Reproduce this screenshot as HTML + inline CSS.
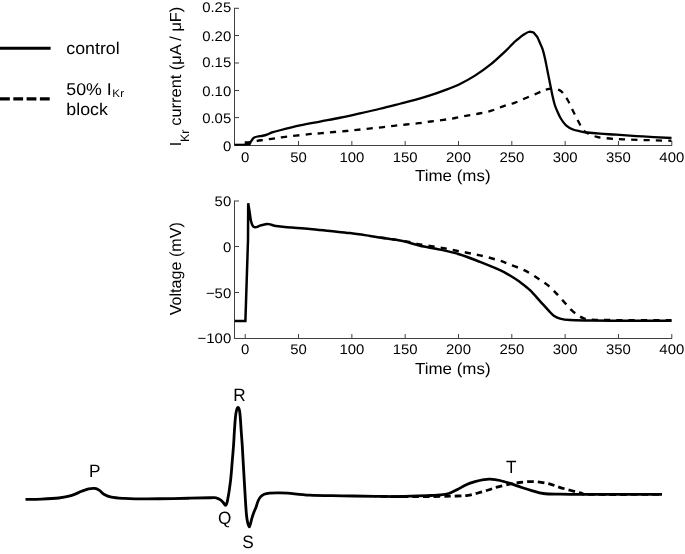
<!DOCTYPE html>
<html><head><meta charset="utf-8"><style>
html,body{margin:0;padding:0;background:#fff;width:685px;height:554px;overflow:hidden}
svg{display:block;will-change:transform}
text{font-family:"Liberation Sans",sans-serif;fill:#000;text-rendering:geometricPrecision}
</style></head><body>
<svg width="685" height="554" viewBox="0 0 685 554">
<path d="M234.50 7.80 V145.50 H672.00" fill="none" stroke="#404040" stroke-width="1"/>
<path d="M245.20 145.50 V141.00" stroke="#404040" stroke-width="1"/>
<path d="M298.52 145.50 V141.00" stroke="#404040" stroke-width="1"/>
<path d="M351.85 145.50 V141.00" stroke="#404040" stroke-width="1"/>
<path d="M405.17 145.50 V141.00" stroke="#404040" stroke-width="1"/>
<path d="M458.50 145.50 V141.00" stroke="#404040" stroke-width="1"/>
<path d="M511.82 145.50 V141.00" stroke="#404040" stroke-width="1"/>
<path d="M565.15 145.50 V141.00" stroke="#404040" stroke-width="1"/>
<path d="M618.47 145.50 V141.00" stroke="#404040" stroke-width="1"/>
<path d="M671.80 145.50 V141.00" stroke="#404040" stroke-width="1"/>
<path d="M234.50 145.50 H239.00" stroke="#404040" stroke-width="1"/>
<path d="M234.50 117.60 H239.00" stroke="#404040" stroke-width="1"/>
<path d="M234.50 90.50 H239.00" stroke="#404040" stroke-width="1"/>
<path d="M234.50 63.00 H239.00" stroke="#404040" stroke-width="1"/>
<path d="M234.50 35.50 H239.00" stroke="#404040" stroke-width="1"/>
<path d="M234.50 8.30 H239.00" stroke="#404040" stroke-width="1"/>
<text transform="translate(231.20 150.90) scale(1.065 1)" font-size="14" text-anchor="end" >0</text>
<text transform="translate(231.20 123.10) scale(1.065 1)" font-size="14" text-anchor="end" >0.05</text>
<text transform="translate(231.20 95.70) scale(1.065 1)" font-size="14" text-anchor="end" >0.10</text>
<text transform="translate(231.20 67.30) scale(1.065 1)" font-size="14" text-anchor="end" >0.15</text>
<text transform="translate(231.20 40.80) scale(1.065 1)" font-size="14" text-anchor="end" >0.20</text>
<text transform="translate(231.20 12.40) scale(1.065 1)" font-size="14" text-anchor="end" >0.25</text>
<text transform="translate(245.20 161.80) scale(1.065 1)" font-size="14" text-anchor="middle" >0</text>
<text transform="translate(298.52 161.80) scale(1.065 1)" font-size="14" text-anchor="middle" >50</text>
<text transform="translate(351.85 161.80) scale(1.065 1)" font-size="14" text-anchor="middle" >100</text>
<text transform="translate(405.17 161.80) scale(1.065 1)" font-size="14" text-anchor="middle" >150</text>
<text transform="translate(458.50 161.80) scale(1.065 1)" font-size="14" text-anchor="middle" >200</text>
<text transform="translate(511.82 161.80) scale(1.065 1)" font-size="14" text-anchor="middle" >250</text>
<text transform="translate(565.15 161.80) scale(1.065 1)" font-size="14" text-anchor="middle" >300</text>
<text transform="translate(618.47 161.80) scale(1.065 1)" font-size="14" text-anchor="middle" >350</text>
<text transform="translate(671.80 161.80) scale(1.065 1)" font-size="14" text-anchor="middle" >400</text>
<text transform="translate(452.80 180.60) scale(1.058 1)" font-size="16" text-anchor="middle" >Time (ms)</text>
<g transform="translate(180.5 0) rotate(-90)"><text x="-146.2" y="0" font-size="16">I</text><text x="-141.9" y="8.5" font-size="12.3">Kr</text><text transform="translate(-125.7 0) scale(1.024 1)" font-size="16">current (μA / μF)</text></g>
<path d="M234.50 200.50 V338.50 H672.00" fill="none" stroke="#404040" stroke-width="1"/>
<path d="M245.20 338.50 V334.00" stroke="#404040" stroke-width="1"/>
<path d="M298.52 338.50 V334.00" stroke="#404040" stroke-width="1"/>
<path d="M351.85 338.50 V334.00" stroke="#404040" stroke-width="1"/>
<path d="M405.17 338.50 V334.00" stroke="#404040" stroke-width="1"/>
<path d="M458.50 338.50 V334.00" stroke="#404040" stroke-width="1"/>
<path d="M511.82 338.50 V334.00" stroke="#404040" stroke-width="1"/>
<path d="M565.15 338.50 V334.00" stroke="#404040" stroke-width="1"/>
<path d="M618.47 338.50 V334.00" stroke="#404040" stroke-width="1"/>
<path d="M671.80 338.50 V334.00" stroke="#404040" stroke-width="1"/>
<path d="M234.50 201.00 H239.00" stroke="#404040" stroke-width="1"/>
<path d="M234.50 246.50 H239.00" stroke="#404040" stroke-width="1"/>
<path d="M234.50 292.50 H239.00" stroke="#404040" stroke-width="1"/>
<path d="M234.50 338.50 H239.00" stroke="#404040" stroke-width="1"/>
<text transform="translate(231.20 206.10) scale(1.065 1)" font-size="14" text-anchor="end" >50</text>
<text transform="translate(231.20 251.50) scale(1.065 1)" font-size="14" text-anchor="end" >0</text>
<text transform="translate(231.20 297.70) scale(1.065 1)" font-size="14" text-anchor="end" >−50</text>
<text transform="translate(231.20 343.30) scale(1.065 1)" font-size="14" text-anchor="end" >−100</text>
<text transform="translate(245.20 354.20) scale(1.065 1)" font-size="14" text-anchor="middle" >0</text>
<text transform="translate(298.52 354.20) scale(1.065 1)" font-size="14" text-anchor="middle" >50</text>
<text transform="translate(351.85 354.20) scale(1.065 1)" font-size="14" text-anchor="middle" >100</text>
<text transform="translate(405.17 354.20) scale(1.065 1)" font-size="14" text-anchor="middle" >150</text>
<text transform="translate(458.50 354.20) scale(1.065 1)" font-size="14" text-anchor="middle" >200</text>
<text transform="translate(511.82 354.20) scale(1.065 1)" font-size="14" text-anchor="middle" >250</text>
<text transform="translate(565.15 354.20) scale(1.065 1)" font-size="14" text-anchor="middle" >300</text>
<text transform="translate(618.47 354.20) scale(1.065 1)" font-size="14" text-anchor="middle" >350</text>
<text transform="translate(671.80 354.20) scale(1.065 1)" font-size="14" text-anchor="middle" >400</text>
<text transform="translate(452.80 373.50) scale(1.058 1)" font-size="16" text-anchor="middle" >Time (ms)</text>
<g transform="translate(181 0) rotate(-90)"><text transform="translate(-315.3 0) scale(1.006 1)" font-size="16">Voltage (mV)</text></g>
<path d="M245.00 144.60 C245.75 144.23 247.47 143.03 249.50 142.40 C251.53 141.77 254.88 141.20 257.20 140.80 C259.52 140.40 261.33 140.28 263.40 140.00 C265.47 139.72 267.53 139.40 269.60 139.10 C271.67 138.80 273.82 138.50 275.80 138.20 C277.78 137.90 275.97 137.97 281.50 137.30 C287.03 136.63 302.32 134.88 309.00 134.20 C315.68 133.52 317.47 133.57 321.60 133.20 C325.73 132.83 329.73 132.37 333.80 132.00 C337.87 131.63 342.17 131.35 346.00 131.00 C349.83 130.65 352.97 130.30 356.80 129.90 C360.63 129.50 364.87 129.03 369.00 128.60 C373.13 128.17 377.47 127.77 381.60 127.30 C385.73 126.83 389.73 126.27 393.80 125.80 C397.87 125.33 401.88 124.93 406.00 124.50 C410.12 124.07 414.40 123.70 418.50 123.20 C422.60 122.70 426.47 122.05 430.60 121.50 C434.73 120.95 439.20 120.48 443.30 119.90 C447.40 119.32 451.22 118.72 455.20 118.00 C459.18 117.28 463.20 116.35 467.20 115.60 C471.20 114.85 475.17 114.32 479.20 113.50 C483.23 112.68 487.43 111.90 491.40 110.70 C495.37 109.50 499.13 107.62 503.00 106.30 C506.87 104.98 510.77 104.18 514.60 102.80 C518.43 101.42 522.20 99.60 526.00 98.00 C529.80 96.40 534.07 94.60 537.40 93.20 C540.73 91.80 543.47 90.35 546.00 89.60 C548.53 88.85 550.43 88.65 552.60 88.70 C554.77 88.75 557.32 89.23 559.00 89.90 C560.68 90.57 561.23 90.97 562.70 92.70 C564.17 94.43 566.12 97.35 567.80 100.30 C569.48 103.25 571.12 107.03 572.80 110.40 C574.48 113.77 576.42 117.65 577.90 120.50 C579.38 123.35 580.23 125.45 581.70 127.50 C583.17 129.55 584.18 131.23 586.70 132.80 C589.22 134.37 592.97 135.95 596.80 136.90 C600.63 137.85 605.37 138.10 609.70 138.50 C614.03 138.90 616.25 139.02 622.80 139.30 C629.35 139.58 640.88 139.95 649.00 140.20 C657.12 140.45 667.75 140.70 671.50 140.80" fill="none" stroke="#000" stroke-width="2.3" stroke-dasharray="6.2 6.1"/>
<path d="M234.5 144.7 H245.5" fill="none" stroke="#000" stroke-width="2"/>
<path d="M249.70 143.20 C249.87 142.98 250.32 142.43 250.70 141.90 C251.08 141.37 251.47 140.70 252.00 140.00 C252.53 139.30 252.98 138.28 253.90 137.70 C254.82 137.12 256.03 136.82 257.50 136.50 C258.97 136.18 261.12 136.07 262.70 135.75 C264.28 135.43 265.43 135.15 267.00 134.60 C268.57 134.05 269.93 133.17 272.10 132.45 C274.27 131.72 275.35 131.42 280.00 130.25 C284.65 129.08 293.33 126.90 300.00 125.45 C306.67 124.00 313.33 122.83 320.00 121.55 C326.67 120.27 333.33 119.12 340.00 117.75 C346.67 116.38 353.33 114.85 360.00 113.35 C366.67 111.85 373.33 110.35 380.00 108.75 C386.67 107.15 394.17 105.22 400.00 103.75 C405.83 102.28 410.00 101.33 415.00 99.95 C420.00 98.57 425.00 97.08 430.00 95.45 C435.00 93.82 440.00 92.07 445.00 90.15 C450.00 88.23 455.00 86.37 460.00 83.95 C465.00 81.53 470.00 78.82 475.00 75.65 C480.00 72.48 485.00 68.97 490.00 64.95 C495.00 60.93 500.83 55.46 505.00 51.55 C509.17 47.64 512.78 43.62 515.00 41.50 C517.22 39.38 517.22 39.70 518.30 38.80 C519.38 37.90 520.42 36.92 521.50 36.10 C522.58 35.28 523.63 34.58 524.80 33.90 C525.97 33.22 527.47 32.35 528.50 32.00 C529.53 31.65 530.18 31.70 531.00 31.80 C531.82 31.90 532.73 32.20 533.40 32.60 C534.07 33.00 534.37 33.48 535.00 34.20 C535.63 34.92 536.53 35.82 537.20 36.90 C537.87 37.98 538.35 39.25 539.00 40.70 C539.65 42.15 540.47 44.07 541.10 45.60 C541.73 47.13 542.15 47.77 542.80 49.90 C543.45 52.03 544.32 55.40 545.00 58.40 C545.68 61.40 546.27 64.73 546.90 67.90 C547.53 71.07 548.17 74.23 548.80 77.40 C549.43 80.57 550.07 83.75 550.70 86.90 C551.33 90.05 551.92 93.28 552.60 96.30 C553.28 99.32 553.97 102.38 554.80 105.00 C555.63 107.62 556.55 109.67 557.60 112.00 C558.65 114.33 559.70 116.78 561.10 119.00 C562.50 121.22 564.02 123.55 566.00 125.30 C567.98 127.05 570.67 128.50 573.00 129.50 C575.33 130.50 577.67 130.80 580.00 131.30 C582.33 131.80 583.67 132.10 587.00 132.50 C590.33 132.90 595.12 133.33 600.00 133.70 C604.88 134.07 609.20 134.25 616.30 134.70 C623.40 135.15 633.40 135.85 642.60 136.40 C651.80 136.95 666.68 137.73 671.50 138.00" fill="none" stroke="#000" stroke-width="2.3"/>
<path d="M245 145.6 L245.1 141.3 L249.7 141.3 L250.5 142.3 L251.6 142.6 L251.4 143.4 L250.6 143.6 L250.8 145.6 Z" fill="#000"/>
<path d="M380.00 237.40 C384.17 238.03 398.33 240.03 405.00 241.20 C411.67 242.37 414.17 243.35 420.00 244.40 C425.83 245.45 433.33 246.33 440.00 247.50 C446.67 248.67 453.33 250.08 460.00 251.40 C466.67 252.72 473.33 253.85 480.00 255.40 C486.67 256.95 495.00 259.17 500.00 260.70 C505.00 262.23 505.90 262.98 510.00 264.60 C514.10 266.22 519.73 267.97 524.60 270.40 C529.47 272.83 535.07 276.52 539.20 279.20 C543.33 281.88 546.48 284.07 549.40 286.50 C552.32 288.93 554.27 291.25 556.70 293.80 C559.13 296.35 561.57 299.12 564.00 301.80 C566.43 304.48 568.87 307.58 571.30 309.90 C573.73 312.22 576.40 314.25 578.60 315.70 C580.80 317.15 582.30 317.93 584.50 318.60 C586.70 319.27 587.55 319.45 591.80 319.70 C596.05 319.95 596.72 320.02 610.00 320.10 C623.28 320.18 661.25 320.18 671.50 320.20" fill="none" stroke="#000" stroke-width="2.5" stroke-dasharray="6.2 6.1"/>
<path d="M234.70 321.00 L245.40 321.00 L248.00 240.00 L248.15 212.00 L248.20 203.30 C248.43 204.75 249.15 209.13 249.60 212.00 C250.05 214.87 250.40 218.23 250.90 220.50 C251.40 222.77 251.93 224.48 252.60 225.60 C253.27 226.72 254.08 227.00 254.90 227.20 C255.72 227.40 256.65 227.07 257.50 226.80 C258.35 226.53 258.42 226.08 260.00 225.60 C261.58 225.12 265.10 224.03 267.00 223.90 C268.90 223.77 269.93 224.43 271.40 224.80 C272.87 225.17 273.60 225.73 275.80 226.10 C278.00 226.47 281.90 226.75 284.60 227.00 C287.30 227.25 287.77 227.28 292.00 227.60 C296.23 227.92 303.67 228.33 310.00 228.90 C316.33 229.47 323.33 230.30 330.00 231.00 C336.67 231.70 343.33 232.28 350.00 233.10 C356.67 233.92 363.33 234.93 370.00 235.90 C376.67 236.87 384.17 237.95 390.00 238.90 C395.83 239.85 400.00 240.45 405.00 241.60 C410.00 242.75 414.17 244.47 420.00 245.80 C425.83 247.13 433.33 248.15 440.00 249.60 C446.67 251.05 453.33 252.45 460.00 254.50 C466.67 256.55 473.33 259.28 480.00 261.90 C486.67 264.52 495.00 267.93 500.00 270.20 C505.00 272.47 506.67 273.52 510.00 275.50 C513.33 277.48 516.67 279.67 520.00 282.10 C523.33 284.53 526.67 286.93 530.00 290.10 C533.33 293.27 537.00 297.80 540.00 301.10 C543.00 304.40 545.70 307.47 548.00 309.90 C550.30 312.33 551.80 314.25 553.80 315.70 C555.80 317.15 557.30 317.87 560.00 318.60 C562.70 319.33 565.00 319.78 570.00 320.10 C575.00 320.42 583.33 320.40 590.00 320.50 C596.67 320.60 596.42 320.67 610.00 320.70 C623.58 320.73 661.25 320.70 671.50 320.70" fill="none" stroke="#000" stroke-width="2.5" stroke-linejoin="miter"/>
<path d="M375.40 496.30 C379.50 496.37 389.08 496.68 400.00 496.70 C410.92 496.72 431.37 496.52 440.90 496.40 C450.43 496.28 452.68 496.17 457.20 496.00 C461.72 495.83 464.53 495.90 468.00 495.40 C471.47 494.90 474.60 493.90 478.00 493.00 C481.40 492.10 485.05 491.03 488.40 490.00 C491.75 488.97 494.43 487.80 498.10 486.80 C501.77 485.80 506.83 484.72 510.40 484.00 C513.97 483.28 516.18 482.90 519.50 482.50 C522.82 482.10 526.68 481.63 530.30 481.60 C533.92 481.57 537.77 481.83 541.20 482.30 C544.63 482.77 547.83 483.57 550.90 484.40 C553.97 485.23 556.25 486.28 559.60 487.30 C562.95 488.32 567.35 489.53 571.00 490.50 C574.65 491.47 578.28 492.45 581.50 493.10 C584.72 493.75 576.88 494.18 590.30 494.40 C603.72 494.62 650.05 494.40 662.00 494.40" fill="none" stroke="#000" stroke-width="2.8" stroke-dasharray="6.6 4.0" stroke-dashoffset="5.5"/>
<path d="M25.50 499.40 C28.13 499.35 35.75 499.33 41.30 499.10 C46.85 498.87 53.85 498.57 58.80 498.00 C63.75 497.43 67.20 496.82 71.00 495.70 C74.80 494.58 78.67 492.43 81.60 491.30 C84.53 490.17 86.42 489.38 88.60 488.90 C90.78 488.42 92.95 488.20 94.70 488.40 C96.45 488.60 97.50 489.08 99.10 490.10 C100.70 491.12 102.25 493.33 104.30 494.50 C106.35 495.67 108.18 496.45 111.40 497.10 C114.62 497.75 119.67 498.10 123.60 498.40 C127.53 498.70 129.07 498.84 135.00 498.90 C140.93 498.96 150.30 498.86 159.20 498.75 C168.10 498.64 179.88 498.42 188.40 498.25 C196.92 498.08 205.68 497.82 210.30 497.75 C214.92 497.68 214.40 497.44 216.10 497.80 C217.80 498.16 219.28 499.08 220.50 499.90 C221.72 500.72 222.55 501.80 223.40 502.70 C224.25 503.60 224.92 505.65 225.60 505.30 C226.28 504.95 226.68 504.63 227.50 500.60 C228.32 496.57 229.70 487.78 230.50 481.10 C231.30 474.42 231.78 466.58 232.30 460.50 C232.82 454.42 233.25 449.52 233.60 444.60 C233.95 439.68 234.10 435.50 234.40 431.00 C234.70 426.50 235.05 421.02 235.40 417.60 C235.75 414.18 236.07 412.20 236.50 410.50 C236.93 408.80 237.50 407.40 238.00 407.40 C238.50 407.40 239.12 408.80 239.50 410.50 C239.88 412.20 240.02 414.18 240.30 417.60 C240.58 421.02 240.88 426.50 241.20 431.00 C241.52 435.50 241.88 439.68 242.20 444.60 C242.52 449.52 242.65 452.70 243.10 460.50 C243.55 468.30 244.32 482.15 244.90 491.40 C245.48 500.65 245.93 510.18 246.60 516.00 C247.27 521.82 248.28 524.92 248.90 526.30 C249.52 527.68 249.78 525.72 250.30 524.30 C250.82 522.88 251.38 519.85 252.00 517.80 C252.62 515.75 253.35 513.70 254.00 512.00 C254.65 510.30 255.23 509.40 255.90 507.60 C256.57 505.80 257.23 502.98 258.00 501.20 C258.77 499.42 259.47 498.07 260.50 496.90 C261.53 495.73 262.67 494.83 264.20 494.20 C265.73 493.57 267.40 493.32 269.70 493.10 C272.00 492.88 274.98 492.88 278.00 492.90 C281.02 492.92 282.52 492.82 287.80 493.20 C293.08 493.58 300.57 494.77 309.70 495.20 C318.83 495.63 331.65 495.62 342.60 495.80 C353.55 495.98 365.83 496.18 375.40 496.30 C384.97 496.42 390.78 496.63 400.00 496.50 C409.22 496.37 424.03 495.75 430.70 495.50 C437.37 495.25 436.98 495.33 440.00 495.00 C443.02 494.67 445.88 494.42 448.80 493.50 C451.72 492.58 454.58 490.97 457.50 489.50 C460.42 488.03 463.38 486.00 466.30 484.70 C469.22 483.40 472.08 482.53 475.00 481.70 C477.92 480.87 481.32 480.12 483.80 479.70 C486.28 479.28 487.20 479.07 489.90 479.20 C492.60 479.33 496.52 479.75 500.00 480.50 C503.48 481.25 507.18 482.53 510.80 483.70 C514.42 484.87 518.08 486.32 521.70 487.50 C525.32 488.68 528.90 489.80 532.50 490.80 C536.10 491.80 538.72 492.93 543.30 493.50 C547.88 494.07 553.05 494.05 560.00 494.20 C566.95 494.35 568.00 494.37 585.00 494.40 C602.00 494.43 649.17 494.40 662.00 494.40" fill="none" stroke="#000" stroke-width="2.8" stroke-linejoin="round"/>
<text transform="translate(94.70 476.90) scale(0.965 1)" font-size="17.8" text-anchor="middle" >P</text>
<text transform="translate(239.40 400.80) scale(0.965 1)" font-size="17.8" text-anchor="middle" >R</text>
<text transform="translate(224.80 523.60) scale(0.965 1)" font-size="17.8" text-anchor="middle" >Q</text>
<text transform="translate(248.10 548.00) scale(0.965 1)" font-size="17.8" text-anchor="middle" >S</text>
<text transform="translate(511.30 473.00) scale(0.965 1)" font-size="17.8" text-anchor="middle" >T</text>
<path d="M0 48.3 H50.6" stroke="#000" stroke-width="3"/>
<path d="M0 98.9 H50.2" stroke="#000" stroke-width="3.2" stroke-dasharray="9.8 3.5"/>
<text transform="translate(66.30 53.50) scale(1.045 1)" font-size="17" text-anchor="start" >control</text>
<text transform="translate(66.3 94.7) scale(1.045 1)" font-size="17">50% I<tspan font-size="11" dy="2" dx="0.5" letter-spacing="0.4">Kr</tspan></text>
<text transform="translate(66.30 114.60) scale(1.045 1)" font-size="17" text-anchor="start" >block</text>
</svg>
</body></html>
